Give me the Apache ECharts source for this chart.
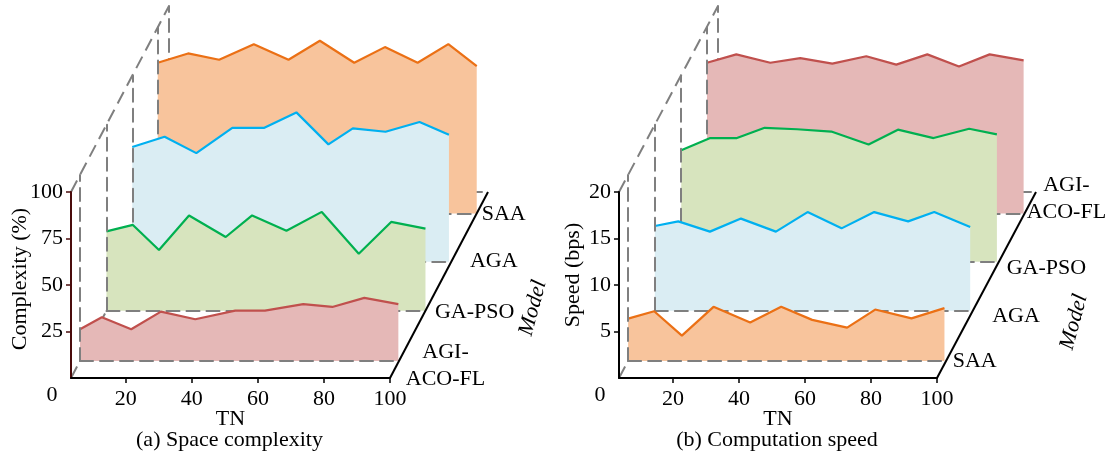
<!DOCTYPE html>
<html><head><meta charset="utf-8">
<script src="https://cdn.jsdelivr.net/npm/echarts@6/dist/echarts.min.js"></script>
<style>html,body{margin:0;padding:0;background:#fff}#c{width:1109px;height:459px}</style>
</head><body><div id="c"></div>
<script>
// ---------------- data ----------------
const xTicks = [20, 40, 60, 80, 100];
const yTicksA = [25, 50, 75, 100];
const yTicksB = [5, 10, 15, 20];
const modelsA = ['AGI-ACO-FL', 'GA-PSO', 'AGA', 'SAA'];   // front -> back
const modelsB = ['SAA', 'AGA', 'GA-PSO', 'AGI-ACO-FL'];   // front -> back

// (a) Space complexity (%)
const tnA_AGI   = [3.4, 10.0, 18.9, 27.9, 38.3, 50.4, 59.4, 71.0, 79.8, 89.5, 99.8];
const valA_AGI  = [17.0, 23.5, 17.0, 26.5, 22.4, 27.0, 27.0, 30.5, 29.0, 33.9, 30.5];
const tnA_GAPSO = [3.4, 11.4, 19.3, 28.4, 39.5, 47.5, 57.9, 68.6, 79.8, 89.6, 100];
const valA_GAPSO= [42.6, 46.1, 32.6, 51.2, 39.6, 51.2, 43.0, 53.1, 30.6, 47.7, 44.1];
const tnA_AGA   = [3.4, 13.2, 22.8, 33.7, 43.4, 53.1, 62.8, 70.2, 80.1, 90.4, 99.3];
const valA_AGA  = [61.7, 67.2, 58.4, 72.0, 72.0, 80.3, 63.1, 71.7, 69.9, 75.1, 68.3];
const tnA_SAA   = [3.4, 12.6, 22.0, 32.5, 43.0, 52.5, 62.9, 72.2, 82.1, 91.4, 100];
const valA_SAA  = [81.0, 86.0, 82.6, 91.0, 82.6, 92.8, 81.0, 89.4, 81.0, 91.0, 79.2];

// (b) Computation speed (bps)
const tnB_SAA   = [3.6, 11.5, 19.9, 29.5, 40.6, 50.0, 59.4, 70.0, 78.5, 89.5, 99.5];
const valB_SAA  = [4.55, 5.34, 2.72, 5.81, 4.12, 5.81, 4.41, 3.58, 5.52, 4.57, 5.67];
const tnB_AGA   = [3.6, 10.7, 20.3, 29.7, 40.3, 49.9, 60.2, 70.1, 80.4, 88.3, 99.2];
const valB_AGA  = [9.1, 9.6, 8.5, 9.9, 8.5, 10.6, 8.85, 10.6, 9.6, 10.6, 9.0];
const tnB_GAPSO = [3.7, 12.5, 20.6, 29.0, 38.8, 49.2, 60.5, 69.4, 80.2, 91.0, 99.4];
const valB_GAPSO= [12.0, 13.3, 13.3, 14.4, 14.25, 14.0, 12.6, 14.2, 13.3, 14.3, 13.7];
const tnB_AGI   = [3.7, 12.6, 22.9, 32.0, 41.7, 52.0, 61.1, 70.5, 80.1, 89.4, 99.7];
const valB_AGI  = [16.2, 17.1, 16.2, 16.7, 16.1, 16.9, 16.0, 17.1, 15.8, 17.1, 16.45];

// ---------------- styles / layout ----------------
const colors = {
  'AGI-ACO-FL': {line: '#C0504D', fill: '#E5B8B7'},
  'GA-PSO':     {line: '#00B050', fill: '#D7E4BE'},
  'AGA':        {line: '#00B0F0', fill: '#DAEDF3'},
  'SAA':        {line: '#EB7015', fill: '#F8C49C'}
};
const FONT = '"Liberation Serif", "Times New Roman", serif';
const FS = 22;
const DASH = [13, 7];
const GRAY = '#7f7f7f';
const DW = 2;
const depthF = [0.092, 0.362, 0.625, 0.885];

const panels = [
  {
    O: [71, 378], W: 319, H: 186, depth: [98, -186], xMin: 3.4, yMax: 100,
    yTicks: yTicksA, yAxisColor: '#4a0c0c',
    models: modelsA,
    series: {'AGI-ACO-FL': [tnA_AGI, valA_AGI], 'GA-PSO': [tnA_GAPSO, valA_GAPSO], 'AGA': [tnA_AGA, valA_AGA], 'SAA': [tnA_SAA, valA_SAA]},
    yName: 'Complexity (%)', yNamePos: [20, 279],
    caption: '(a) Space complexity',
    modelPos: [533, 308],
    labelPos: [[445.5, 365.3], [474.7, 312], [493.8, 261], [503.7, 214]]
  },
  {
    O: [619, 378], W: 318, H: 186, depth: [99, -186], xMin: 3.6, yMax: 20,
    yTicks: yTicksB, yAxisColor: '#000',
    models: modelsB,
    series: {'SAA': [tnB_SAA, valB_SAA], 'AGA': [tnB_AGA, valB_AGA], 'GA-PSO': [tnB_GAPSO, valB_GAPSO], 'AGI-ACO-FL': [tnB_AGI, valB_AGI]},
    yName: 'Speed (bps)', yNamePos: [573, 275],
    caption: '(b) Computation speed',
    modelPos: [1074, 322],
    labelPos: [[974.7, 361.5], [1016, 316], [1046.4, 268], [1066.4, 199]]
  }
];

const grid = [], xAxis = [], yAxis = [], series = [], graphic = [];
const hiddenParts = {axisTick: {show: false}, axisLabel: {show: false}, splitLine: {show: false}};

panels.forEach(p => {
  const [ox, oy] = p.O;
  const [dx, dy] = p.depth;
  // front visible axes
  let gi = grid.length;
  grid.push({left: ox, top: oy - p.H, width: p.W, height: p.H, containLabel: false, outerBoundsMode: 'none'});
  xAxis.push({
    gridIndex: gi, type: 'value', min: p.xMin, max: 100, z: 40,
    axisLine: {show: true, onZero: false, lineStyle: {color: '#000', width: 2}},
    axisTick: {show: true, length: 5, customValues: xTicks, lineStyle: {color: '#000', width: 1.5}},
    axisLabel: {show: true, customValues: xTicks, margin: 10, fontFamily: FONT, fontSize: FS, color: '#000'},
    splitLine: {show: false}
  });
  yAxis.push({
    gridIndex: gi, type: 'value', min: 0, max: p.yMax, z: 40,
    axisLine: {show: true, onZero: false, lineStyle: {color: p.yAxisColor, width: 2}},
    axisTick: {show: true, length: 5, customValues: p.yTicks, lineStyle: {color: p.yAxisColor, width: 1.5}},
    axisLabel: {show: true, customValues: p.yTicks, margin: 8, fontFamily: FONT, fontSize: FS, color: '#000'},
    splitLine: {show: false}
  });

  // back wall (depth 1)
  gi = grid.length;
  grid.push({left: ox + dx, top: oy + dy - p.H, width: p.W, height: p.H, containLabel: false, outerBoundsMode: 'none'});
  xAxis.push(Object.assign({gridIndex: gi, type: 'value', min: p.xMin, max: 100, z: 5,
    axisLine: {show: true, onZero: false, lineStyle: {color: GRAY, width: DW, type: DASH}}}, hiddenParts));
  yAxis.push(Object.assign({gridIndex: gi, type: 'value', min: 0, max: p.yMax, z: 5,
    axisLine: {show: true, onZero: false, lineStyle: {color: GRAY, width: DW, type: DASH}}}, hiddenParts));

  // layers
  p.models.forEach((m, L) => {
    const f = depthF[L];
    const r = 3 - L;
    gi = grid.length;
    grid.push({left: ox + f * dx, top: oy + f * dy - p.H, width: p.W, height: p.H, containLabel: false, outerBoundsMode: 'none'});
    xAxis.push(Object.assign({gridIndex: gi, type: 'value', min: p.xMin, max: 100, z: 11 + 3 * r,
      axisLine: {show: true, onZero: false, lineStyle: {color: GRAY, width: DW, type: DASH}}}, hiddenParts));
    yAxis.push(Object.assign({gridIndex: gi, type: 'value', min: 0, max: p.yMax, z: 11 + 3 * r,
      axisLine: {show: true, onZero: false, lineStyle: {color: GRAY, width: DW, type: DASH}}}, hiddenParts));
    const [tn, v] = p.series[m];
    series.push({
      type: 'line', name: m, xAxisIndex: gi, yAxisIndex: gi, z: 10 + 3 * r,
      data: tn.map((t, i) => [t, v[i]]),
      symbol: 'none', smooth: false,
      lineStyle: {color: colors[m].line, width: 2.2},
      areaStyle: {color: colors[m].fill, opacity: 1, origin: 'start'},
      silent: true
    });
    // model label
    const lp = p.labelPos[L];
    graphic.push({type: 'text', x: lp[0], y: lp[1], z: 100,
      style: {text: m.replace('-ACO', '-\nACO'), font: FS + 'px ' + FONT, fill: '#000', align: 'center', verticalAlign: 'middle', lineHeight: 27}});
  });

  // frame lines
  graphic.push({type: 'line', z: 4, shape: {x1: ox, y1: oy - p.H, x2: ox + dx, y2: oy + dy - p.H},
    style: {stroke: GRAY, lineWidth: DW, lineDash: DASH}});
  graphic.push({type: 'line', z: 4, shape: {x1: ox, y1: oy, x2: ox + dx, y2: oy + dy},
    style: {stroke: GRAY, lineWidth: DW, lineDash: DASH}});
  graphic.push({type: 'line', z: 90, shape: {x1: ox + p.W, y1: oy, x2: ox + p.W + dx, y2: oy + dy},
    style: {stroke: '#000', lineWidth: 2}});

  // texts
  graphic.push({type: 'text', x: ox - 19, y: oy + 17, z: 100,
    style: {text: '0', font: FS + 'px ' + FONT, fill: '#000', align: 'center', verticalAlign: 'middle'}});
  graphic.push({type: 'text', x: p.yNamePos[0], y: p.yNamePos[1], rotation: Math.PI / 2, z: 100,
    style: {text: p.yName, font: FS + 'px ' + FONT, fill: '#000', align: 'center', verticalAlign: 'middle'}});
  graphic.push({type: 'text', x: ox + p.W / 2, y: oy + 41, z: 100,
    style: {text: 'TN', font: FS + 'px ' + FONT, fill: '#000', align: 'center', verticalAlign: 'middle'}});
  graphic.push({type: 'text', x: ox + p.W / 2 - 1, y: oy + 62, z: 100,
    style: {text: p.caption, font: FS + 'px ' + FONT, fill: '#000', align: 'center', verticalAlign: 'middle'}});
  graphic.push({type: 'text', x: p.modelPos[0], y: p.modelPos[1], rotation: 75 * Math.PI / 180, z: 100,
    style: {text: 'Model', font: 'italic ' + FS + 'px ' + FONT, fill: '#000', align: 'center', verticalAlign: 'middle'}});
});

const chart = echarts.init(document.getElementById('c'), null, {renderer: 'canvas'});
chart.setOption({
  animation: false,
  backgroundColor: '#fff',
  grid, xAxis, yAxis, series, graphic
});
</script>
</body></html>
